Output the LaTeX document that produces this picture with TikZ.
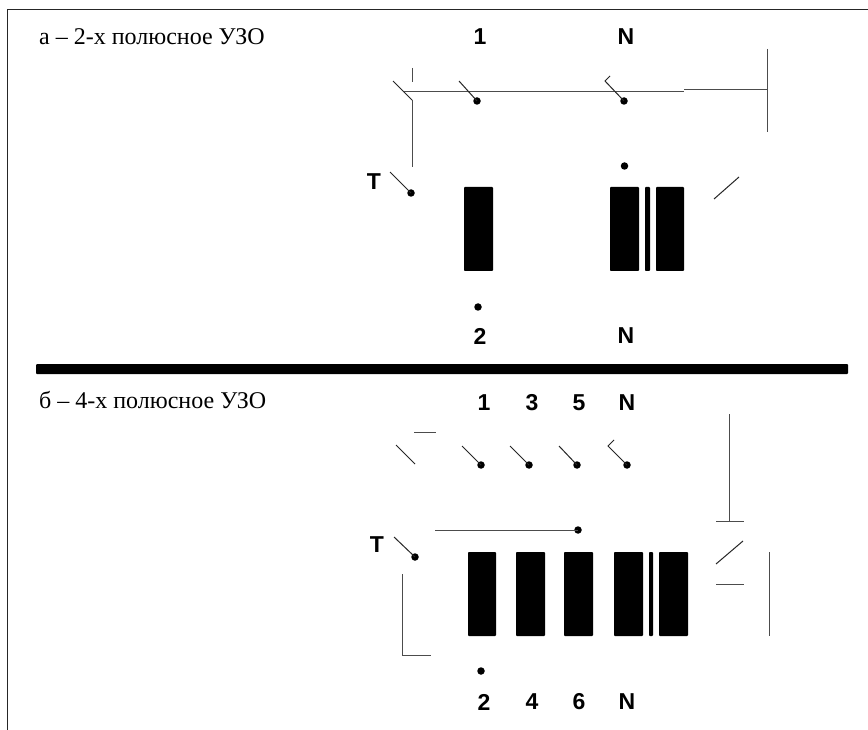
\documentclass[tikz,border=0pt]{standalone}
\usepackage{fontspec}
\setmainfont{Liberation Serif}
\newfontfamily\lblfont{Liberation Sans}
\tikzset{
  x=1pt,y=-1pt,
  wire/.style={draw=black!70,line width=1pt},
  contact/.style={draw=black!85,line width=1pt},
  pole/.style={circle,fill=black,inner sep=0pt,minimum size=7.5pt},
  coil/.style={fill=black,rounded corners=0.8pt},
  term/.style={font=\lblfont\bfseries\fontsize{23}{23}\selectfont,inner sep=0pt,anchor=center},
  caption/.style={font=\fontsize{24}{24}\selectfont,inner sep=0pt,anchor=west},
}
\begin{document}
\begin{tikzpicture}
\useasboundingbox (0,0) rectangle (868,730);
\fill[white] (0,0) rectangle (868,730);
% frame and divider
\draw[line width=1.6pt,black!85] (7.5,730) -- (7.5,9.5) -- (868,9.5);
\fill[black,rounded corners=1pt] (36,364) rectangle (848,374);

% --- a ---
\node[caption] (capA) at (39,37) {а – 2-х полюсное УЗО};
\node[term] (t1a) at (480,37) {1};
\node[term] (tNa) at (626,37) {N};
\node[term] (t2a) at (480,336) {2};
\node[term] (tNb) at (626,336) {N};
\node[term] (tTa) at (374,182) {T};

\node[pole] (pa1) at (477,101) {};
\node[pole] (paN) at (624,101) {};
\node[pole] (paNl) at (624.5,166) {};
\node[pole] (paT) at (411,193) {};
\node[pole] (pa2) at (478,307) {};

\draw[wire] (412,68) -- (412,82);
\draw[contact] (393,81) -- (412,100);
\draw[wire] (412,100) -- (412,167);
\draw[wire] (404,92) -- (684,92);
\draw[wire] (684,90) -- (767,90);
\draw[wire] (767,49) -- (767,132);
\draw[contact] (459,81) -- (pa1.center);
\draw[contact] (610,76) -- (605,81) -- (paN.center);
\draw[contact] (390,172) -- (paT.center);
\draw[contact] (714,199) -- (739,177);

\fill[coil] (464,187) rectangle (493,271);
\fill[coil] (610,187) rectangle (639,271);
\fill[coil] (645,187) rectangle (650,271);
\fill[coil] (656,187) rectangle (684,271);

% --- b ---
\node[caption] (capB) at (39,400) {б – 4-х полюсное УЗО};
\node[term] (t1) at (484,403) {1};
\node[term] (t3) at (532,403) {3};
\node[term] (t5) at (579,403) {5};
\node[term] (tN) at (627,403) {N};
\node[term] (t2) at (484,702) {2};
\node[term] (t4) at (532,702) {4};
\node[term] (t6) at (579,702) {6};
\node[term] (tN2) at (627,702) {N};
\node[term] (tTb) at (377,545) {T};

\node[pole] (p1) at (481,465) {};
\node[pole] (p3) at (529,465) {};
\node[pole] (p5) at (577,465) {};
\node[pole] (pN) at (627,465) {};
\node[pole] (pl) at (578,530) {};
\node[pole] (pT) at (415,557) {};
\node[pole] (p2) at (481,671) {};

\draw[wire] (414,432) -- (436,432);
\draw[contact] (396,445) -- (415,464);
\draw[contact] (462,446) -- (p1.center);
\draw[contact] (510,446) -- (p3.center);
\draw[contact] (559,446) -- (p5.center);
\draw[contact] (614,440) -- (608,446) -- (pN.center);
\draw[wire] (729,414) -- (729,521);
\draw[wire] (716,521) -- (744,521);
\draw[contact] (716,564) -- (743,541);
\draw[wire] (716,584) -- (744,584);
\draw[wire] (769,552) -- (769,636);
\draw[wire] (435,530) -- (pl.center);
\draw[contact] (394,537) -- (pT.center);
\draw[wire] (402,574) -- (402,655) -- (431,655);

\fill[coil] (468,552) rectangle (496,636);
\fill[coil] (516,552) rectangle (545,636);
\fill[coil] (564,552) rectangle (593,636);
\fill[coil] (614,552) rectangle (643,636);
\fill[coil] (649,552) rectangle (653,636);
\fill[coil] (659,552) rectangle (688,636);
\end{tikzpicture}
\end{document}
